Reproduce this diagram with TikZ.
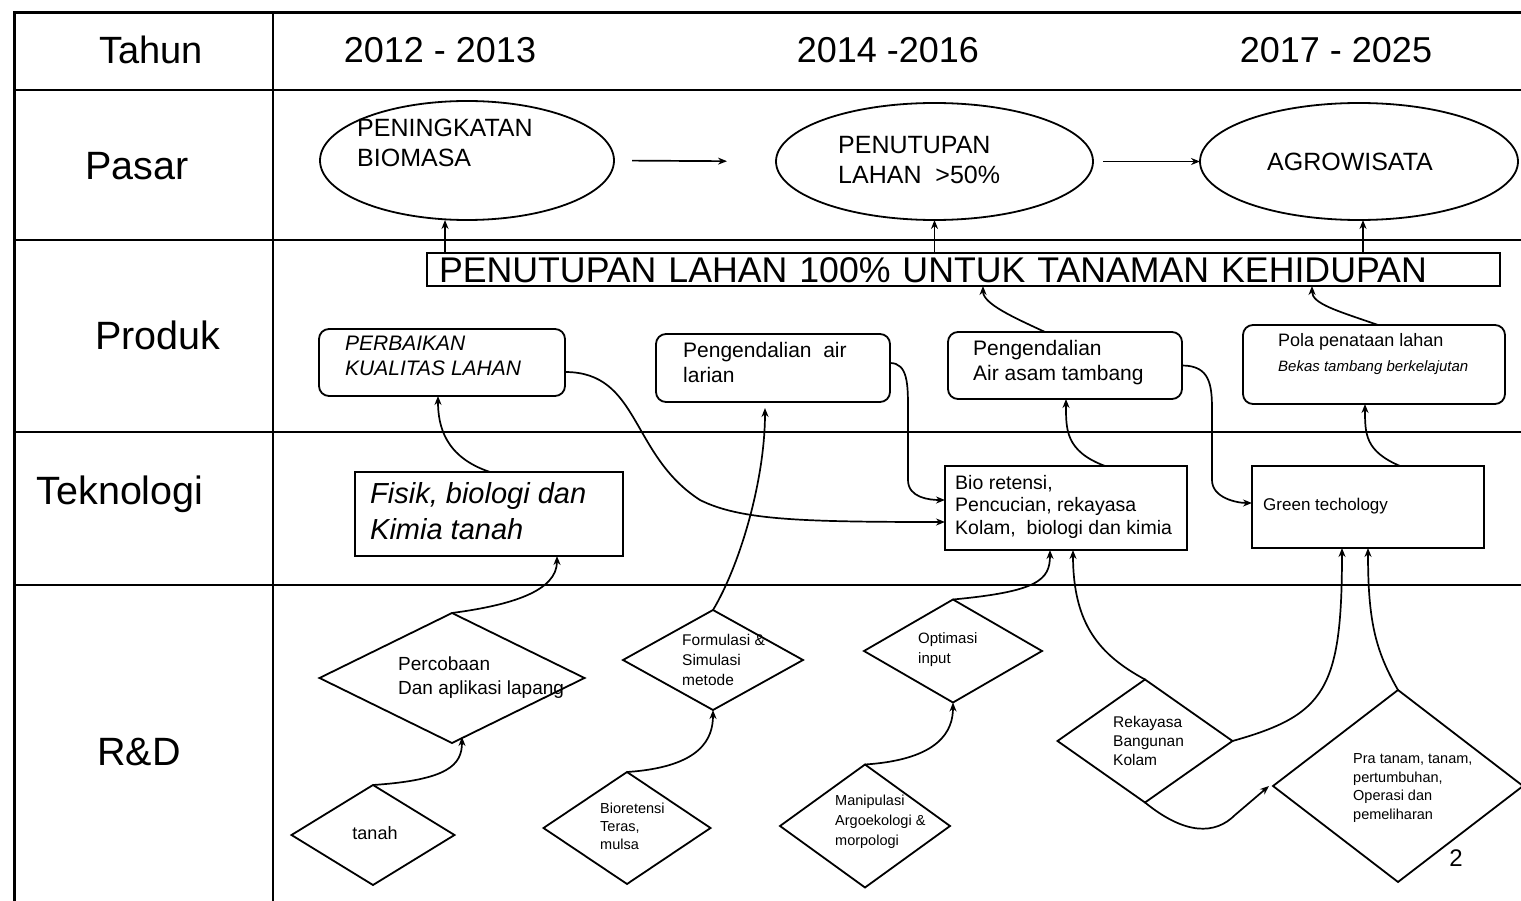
\documentclass[tikz,border=0pt]{standalone}
\usepackage{fontspec}
\setmainfont{Liberation Sans}
\usetikzlibrary{shapes.geometric,arrows.meta,calc}
\begin{document}
\begin{tikzpicture}[x=1pt,y=-1pt,
  box/.style={draw,line width=1.8pt,inner sep=0pt,outer sep=0pt},
  rbox/.style={box,rounded corners=10pt},
  ell/.style={draw,ellipse,line width=1.8pt,inner sep=0pt,outer sep=0pt},
  dia/.style={draw,diamond,line width=1.8pt,inner sep=0pt,outer sep=0pt},
  conn/.style={line width=1.7pt,-{Stealth[length=9pt,width=7pt]}},
  hdr/.style={font=\fontsize{36}{40}\selectfont,inner sep=0pt},
  rowlab/.style={font=\fontsize{39.5}{42}\selectfont,inner sep=0pt},
  txt/.style={anchor=west,align=left,inner sep=0pt},
  grid/.style={line width=2pt},
]
\useasboundingbox (0,0) rectangle (1521,901);
\clip (0,0) rectangle (1521,901);
\fill[white] (0,0) rectangle (1521,901);

% table
\draw[line width=3pt] (1530,13) -- (14,13) -- (14,910);
\draw[grid] (14,90) -- (1530,90);
\draw[grid] (14,240) -- (1530,240);
\draw[grid] (14,432) -- (1530,432);
\draw[grid] (14,585) -- (1530,585);
\draw[grid] (273,13) -- (273,910);

% headers
\node[hdr, font=\fontsize{38}{40}\selectfont] (hTahun) at (151,50) {Tahun};
\node[hdr] (hA) at (440,50) {2012 - 2013};
\node[hdr] (hB) at (888,50) {2014 -2016};
\node[hdr] (hC) at (1336,50) {2017 - 2025};
\node[rowlab] (hPasar) at (137,166) {Pasar};
\node[rowlab] (hProduk) at (158,335) {Produk};
\node[rowlab] (hTek) at (120,494) {Teknologi};
\node[rowlab] (hRD) at (139,752) {R\&D};

% Pasar
\node[ell, minimum width=294pt, minimum height=119pt] (e1) at (467,160.5) {};
\node[txt, font=\fontsize{25}{30}\selectfont] (e1t) at (357,143) {PENINGKATAN\\BIOMASA};
\node[ell, minimum width=317pt, minimum height=117pt] (e2) at (934.5,161.5) {};
\node[txt, font=\fontsize{25}{30}\selectfont] (e2t) at (838,160) {PENUTUPAN\\LAHAN\ \ >50\%};
\node[ell, minimum width=318pt, minimum height=117pt] (e3) at (1359,161.5) {};
\node[inner sep=0pt, font=\fontsize{25}{30}\selectfont] (e3t) at (1350,162) {AGROWISATA};

\draw[conn, shorten <=18pt, shorten >=49pt] (e1.east) -- (e2.west);
\draw[conn, shorten <=10pt] (e2.east) -- (e3.west);

% wide box
\node[box, anchor=north west, minimum width=1073pt, minimum height=33pt, text height=25.5pt, text depth=0pt, inner ysep=3.75pt, inner xsep=12pt, text width=1049pt, align=left, font=\fontsize{35.7}{36}\selectfont] (wide) at (427,253) {PENUTUPAN LAHAN 100\% UNTUK TANAMAN KEHIDUPAN};

\draw[conn] ([xshift=-22pt]e1.south |- wide.north) -- ([xshift=-22pt]e1.south);
\draw[conn] (e2.south |- wide.north) -- (e2.south);
\draw[conn] ([xshift=4pt]e3.south |- wide.north) -- ([xshift=4pt]e3.south);

% Produk
\node[rbox, minimum width=246pt, minimum height=67pt] (p1) at (442,362.5) {};
\node[txt, font=\fontsize{21}{25}\itshape] (p1t) at (345,355.5) {PERBAIKAN\\KUALITAS LAHAN};
\node[rbox, minimum width=234pt, minimum height=68pt] (p2) at (773,368) {};
\node[txt, font=\fontsize{21}{25}\selectfont] (p2t) at (683,362.5) {Pengendalian\ \ air\\larian};
\node[rbox, minimum width=234pt, minimum height=67pt] (p3) at (1065,365.5) {};
\node[txt, font=\fontsize{21}{25}\selectfont] (p3t) at (973,362.5) {Pengendalian\\Air asam tambang};
\node[rbox, minimum width=262pt, minimum height=79pt] (p4) at (1374,364.5) {};
\node[txt, font=\fontsize{18}{25}\selectfont] (p4t) at (1278,354.5) {Pola penataan lahan\\{\fontsize{15}{25}\itshape Bekas tambang berkelajutan}};

\draw[conn] ([xshift=-20pt]p3.north) .. controls +(-30,-14) and +(0,18) .. ([xshift=19.5pt]wide.south);
\draw[conn] ([xshift=4pt]p4.north) .. controls +(-40,-14) and +(0,18) .. ([xshift=348.5pt]wide.south);

% Teknologi
\node[box, minimum width=268pt, minimum height=84pt] (t1) at (489,514) {};
\node[txt, font=\fontsize{29}{36}\itshape] (t1t) at (370,511) {Fisik, biologi dan\\Kimia tanah};
\node[box, minimum width=242pt, minimum height=84pt] (t2) at (1066,508) {};
\node[txt, font=\fontsize{19.5}{22.5}\selectfont] (t2t) at (955,506.5) {Bio retensi,\\Pencucian, rekayasa\\Kolam,\ \ biologi dan kimia};
\node[box, minimum width=232pt, minimum height=82pt] (t3) at (1368,507) {};
\node[txt, font=\fontsize{17}{20}\selectfont] (t3t) at (1263,506) {Green techology};

\draw[conn] ([xshift=1pt]t1.north) .. controls +(-45,-15) and +(0,30) .. ([xshift=-4pt]p1.south);
\draw[conn] ([yshift=-9.5pt]p1.east) .. controls +(75,0) and (630,455) .. (700,500) .. controls (740,520) and (800,522) .. ([yshift=-14pt]t2.west);
\draw[conn] ([yshift=5pt]p2.east) .. controls +(18,0) and +(0,-25) .. (908,410) -- (908,480) .. controls +(0,18) and +(-15,0) .. ([yshift=8pt]t2.west);
\draw[conn] (p3.east) .. controls +(28,0) and +(0,-25) .. (1212,410) -- (1212,480) .. controls +(0,18) and +(-15,0) .. ([yshift=4pt]t3.west);
\draw[conn] ([xshift=39pt]t2.north) .. controls +(-40,-15) and +(0,30) .. ([xshift=1pt]p3.south);
\draw[conn] ([xshift=32pt]t3.north) .. controls +(-35,-15) and +(0,30) .. ([xshift=-9pt]p4.south);

% R&D
\node[dia, minimum width=265pt, minimum height=130pt] (d1) at (452,678) {};
\node[txt, font=\fontsize{19}{24}\selectfont] (d1t) at (398,678) {Percobaan\\Dan aplikasi lapang};
\node[dia, minimum width=163pt, minimum height=100pt] (d2) at (373,835) {};
\node[inner sep=0pt, font=\fontsize{18}{22}\selectfont] (d2t) at (375,833) {tanah};
\node[dia, minimum width=180pt, minimum height=100pt] (d3) at (713,660) {};
\node[txt, font=\fontsize{15.5}{20}\selectfont] (d3t) at (682,660) {Formulasi \&\\Simulasi\\metode};
\node[dia, minimum width=167pt, minimum height=112pt] (d4) at (627,828) {};
\node[txt, font=\fontsize{14.5}{18}\selectfont] (d4t) at (600,826) {Bioretensi\\Teras,\\mulsa};
\node[dia, minimum width=178pt, minimum height=103pt] (d5) at (953,651) {};
\node[txt, font=\fontsize{15}{20}\selectfont] (d5t) at (918,650) {Optimasi\\input};
\node[dia, minimum width=170pt, minimum height=123pt] (d6) at (865,826) {};
\node[txt, font=\fontsize{14.5}{20}\selectfont] (d6t) at (835,822) {Manipulasi\\Argoekologi \&\\morpologi};
\node[dia, minimum width=175pt, minimum height=123pt] (d7) at (1145,741) {};
\node[txt, font=\fontsize{15.5}{19}\selectfont] (d7t) at (1113,741) {Rekayasa\\Bangunan\\Kolam};
\node[dia, minimum width=250pt, minimum height=192pt] (d8) at (1398,786) {};
\node[txt, font=\fontsize{14.5}{18.5}\selectfont] (d8t) at (1353,788) {Pra tanam, tanam,\\pertumbuhan,\\Operasi dan\\pemeliharan};
\node[inner sep=0pt, font=\fontsize{24}{26}\selectfont] (pg) at (1456,858) {2};

\draw[conn] (d1.north) .. controls +(60,-8) and +(0,35) .. ([xshift=68pt]t1.south);
\draw[conn] (d2.north) .. controls +(75,-5) and +(0,28) .. ([xshift=10pt,yshift=6pt]d1.south);
\draw[conn] (d3.north) .. controls (740,565) and (765,480) .. ([xshift=-8pt,yshift=-6pt]p2.south);
\draw[conn] (d4.north) .. controls +(75,-5) and +(0,28) .. (d3.south);
\draw[conn] (d6.north) .. controls +(75,-5) and +(0,28) .. (d5.south);
\draw[conn] (d5.north) .. controls +(85,-8) and +(0,30) .. ([xshift=-16pt]t2.south);
\draw[conn] (d7.north) .. controls (1100,655) and (1073,625) .. ([xshift=7pt]t2.south);
\draw[conn] (d7.east) .. controls (1325,715) and (1342,690) .. ([xshift=-26pt]t3.south);
\draw[conn] (d7.south) .. controls (1185,835) and (1215,835) .. (1235,815) -- ([xshift=-4pt]d8.west);
\draw[conn] (d8.north) .. controls (1375,650) and (1368,620) .. (t3.south);

\end{tikzpicture}
\end{document}
